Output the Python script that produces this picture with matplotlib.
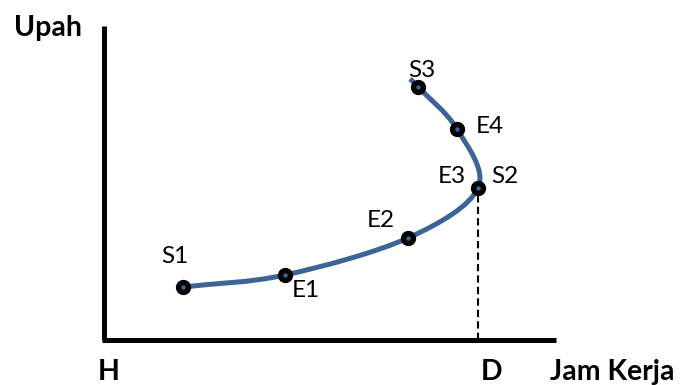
import numpy as np
import matplotlib
matplotlib.use("Agg")
import matplotlib.pyplot as plt
from matplotlib.path import Path
from matplotlib.patches import PathPatch

# ── data: labour supply curve (x = jam kerja, y = upah), origin at H ─────────
POINT_NAMES = ["S1", "E1", "E2", "S2", "E4", "S3"]
JAM_KERJA = [79, 181, 304, 374, 353, 314]
UPAH = [53, 65, 102, 152, 211, 253]
CURVE_END = (306, 261)          # curve runs a bit past S3
D_HOURS = 374                   # dashed drop line at S2

LINE_C = "#3C6496"
FONT = ["Lato", "DejaVu Sans"]
plt.rcParams["font.family"] = FONT

fig = plt.figure(figsize=(6.8, 3.85), dpi=100)
ax = fig.add_axes([0, 0, 1, 1])
ax.set_xlim(-104, 576)
ax.set_ylim(-45, 340)
ax.axis("off")

# axes
ax.plot([0, 0], [0, 314], color="black", lw=3.6, solid_capstyle="butt")
ax.plot([-1.8, 452], [0, 0], color="black", lw=3.6, solid_capstyle="butt")

# smooth curve through the points (Catmull-Rom -> cubic Bezier)
pts = np.array(list(zip(JAM_KERJA, UPAH)) + [CURVE_END], dtype=float)
ext = np.vstack([pts[0] - (pts[1] - pts[0]), pts, pts[-1] + (pts[-1] - pts[-2])])
verts, codes = [tuple(pts[0])], [Path.MOVETO]
for i in range(1, len(ext) - 2):
    p0, p1, p2, p3 = ext[i - 1], ext[i], ext[i + 1], ext[i + 2]
    c1 = p1 + (p2 - p0) / 6.0
    c2 = p2 - (p3 - p1) / 6.0
    verts += [tuple(c1), tuple(c2), tuple(p2)]
    codes += [Path.CURVE4] * 3
ax.add_patch(PathPatch(Path(verts, codes), facecolor="none", edgecolor=LINE_C,
                       lw=3.6, capstyle="butt", zorder=2))

# dashed drop line to D
ax.plot([D_HOURS, D_HOURS], [0, UPAH[3]], color="black", lw=1.5,
        ls=(0, (3.5, 2)), zorder=1)

# markers
ax.plot(JAM_KERJA, UPAH, "o", ms=10, color="black", zorder=3)
ax.plot(JAM_KERJA, UPAH, "o", ms=2.2, color=LINE_C, zorder=4)

# point labels (baseline positions)
labels = [
    ("S1", 71, 77), ("E1", 202, 43), ("E2", 277, 113), ("S3", 318, 263),
    ("E4", 386, 207), ("E3", 348, 157), ("S2", 401, 157),
]
for txt, x, y in labels:
    ax.text(x, y, txt, fontsize=17.5, ha="center", va="baseline")

# axis labels
ax.text(-56, 304, "Upah", fontsize=20.5, fontweight="bold", ha="center", va="baseline")
ax.text(5, -40, "H", fontsize=20.5, fontweight="bold", ha="center", va="baseline")
ax.text(388, -40, "D", fontsize=20.5, fontweight="bold", ha="center", va="baseline")
ax.text(508, -40, "Jam Kerja", fontsize=20.5, fontweight="bold", ha="center", va="baseline")

fig.savefig("out.png", dpi=100)
